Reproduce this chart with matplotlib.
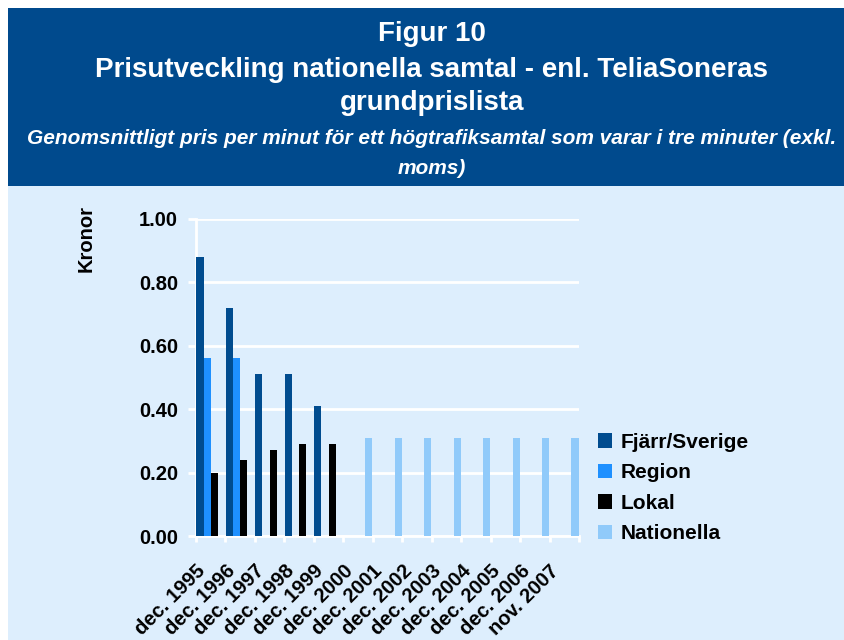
import numpy as np
import matplotlib
matplotlib.use('Agg')
import matplotlib.pyplot as plt
import matplotlib.transforms as mtransforms
from matplotlib.patches import Rectangle

# data
categories = ['dec. 1995', 'dec. 1996', 'dec. 1997', 'dec. 1998', 'dec. 1999',
              'dec. 2000', 'dec. 2001', 'dec. 2002', 'dec. 2003', 'dec. 2004',
              'dec. 2005', 'dec. 2006', 'nov. 2007']
nan = np.nan
fjarr = [0.88, 0.72, 0.51, 0.51, 0.41, nan, nan, nan, nan, nan, nan, nan, nan]
region = [0.56, 0.56, nan, nan, nan, nan, nan, nan, nan, nan, nan, nan, nan]
lokal = [0.20, 0.24, 0.27, 0.29, 0.29, nan, nan, nan, nan, nan, nan, nan, nan]
nationella = [nan, nan, nan, nan, nan, 0.31, 0.31, 0.31, 0.31, 0.31, 0.31, 0.31, 0.31]
series_names = ['Fjärr/Sverige', 'Region', 'Lokal', 'Nationella']
yticks = [0.0, 0.2, 0.4, 0.6, 0.8, 1.0]

colors = ['#004C8F', '#1E90FF', '#000000', '#90CAFA']
bg = '#DDEEFD'
head = '#004A8D'

plt.rcParams['font.family'] = ['Liberation Sans', 'DejaVu Sans']

fig = plt.figure(figsize=(8.45, 6.4), dpi=100)
fig.patch.set_facecolor('white')

# background panels
W, H = 845.0, 640.0
fig.patches.append(Rectangle((8 / W, 0), 1, (H - 186) / H, transform=fig.transFigure,
                             facecolor=bg, edgecolor='none', zorder=-5))
fig.patches.append(Rectangle((8 / W, (H - 186) / H), 1, (186 - 8) / H,
                             transform=fig.transFigure, facecolor=head,
                             edgecolor='none', zorder=-5))

cx = 432 / W
fig.text(cx, 1 - 34 / H, 'Figur 10', color='white', fontsize=20, fontweight='bold',
         ha='center', va='center')
fig.text(cx, 1 - 70 / H, 'Prisutveckling nationella samtal - enl. TeliaSoneras',
         color='white', fontsize=20, fontweight='bold', ha='center', va='center')
fig.text(cx, 1 - 103 / H, 'grundprislista', color='white', fontsize=20,
         fontweight='bold', ha='center', va='center')
fig.text(cx, 1 - 139 / H,
         'Genomsnittligt pris per minut för ett högtrafiksamtal som varar i tre minuter (exkl.',
         color='white', fontsize=15, fontweight='bold', style='italic',
         ha='center', va='center')
fig.text(cx, 1 - 168 / H, 'moms)', color='white', fontsize=15, fontweight='bold',
         style='italic', ha='center', va='center')

ax = fig.add_axes([196 / W, 104 / H, (579 - 196) / W, (536 - 219) / H])
ax.set_facecolor('none')

x = np.arange(len(categories))
w = 0.245
data = [fjarr, region, lokal, nationella]
handles = []
for i, (vals, c) in enumerate(zip(data, colors)):
    b = ax.bar(x + (i - 1.5) * w, vals, w, color=c, zorder=3)
    handles.append(b)

ax.set_ylim(0, 1.0)
ax.set_xlim(-0.5, len(categories) - 0.5)
ax.set_yticks(yticks)
ax.set_yticklabels(['%.2f' % v for v in yticks], fontsize=14.5, fontweight='bold')
ax.yaxis.grid(True, color='white', linewidth=2, zorder=1)
ax.set_axisbelow(True)

# tick marks at category boundaries, labels at centers
ax.set_xticks(np.arange(-0.5, len(categories), 1.0))
ax.set_xticklabels([])
ax.set_xticks(x, minor=True)
ax.set_xticklabels(categories, minor=True, rotation=45, ha='right', va='center',
                   rotation_mode='anchor', fontsize=14.5, fontweight='bold')
ax.tick_params(axis='x', which='major', length=4.5, width=2, color='white')
ax.tick_params(axis='x', which='minor', length=0, pad=23)
ax.tick_params(axis='y', length=6, width=2, color='white', pad=7)
offset = mtransforms.ScaledTranslation(-8 / 100, 0, fig.dpi_scale_trans)
for lab in ax.get_xticklabels(minor=True):
    lab.set_transform(lab.get_transform() + offset)

for s in ['top', 'right']:
    ax.spines[s].set_visible(False)
for s in ['left', 'bottom']:
    ax.spines[s].set_color('white')
    ax.spines[s].set_linewidth(2)

ax.set_ylabel('Kronor', fontsize=14.5, fontweight='bold', labelpad=0)
ax.yaxis.set_label_coords(-0.262, 0.94)

leg = fig.legend([h[0] for h in handles], series_names, loc='upper left',
                 bbox_to_anchor=(579 / W, 1 - 414 / H), frameon=False,
                 prop={'size': 15, 'weight': 'bold'}, handlelength=0.7,
                 handleheight=0.7, handletextpad=0.4, labelspacing=0.55)

plt.savefig('out.png', dpi=100, facecolor=fig.get_facecolor())
